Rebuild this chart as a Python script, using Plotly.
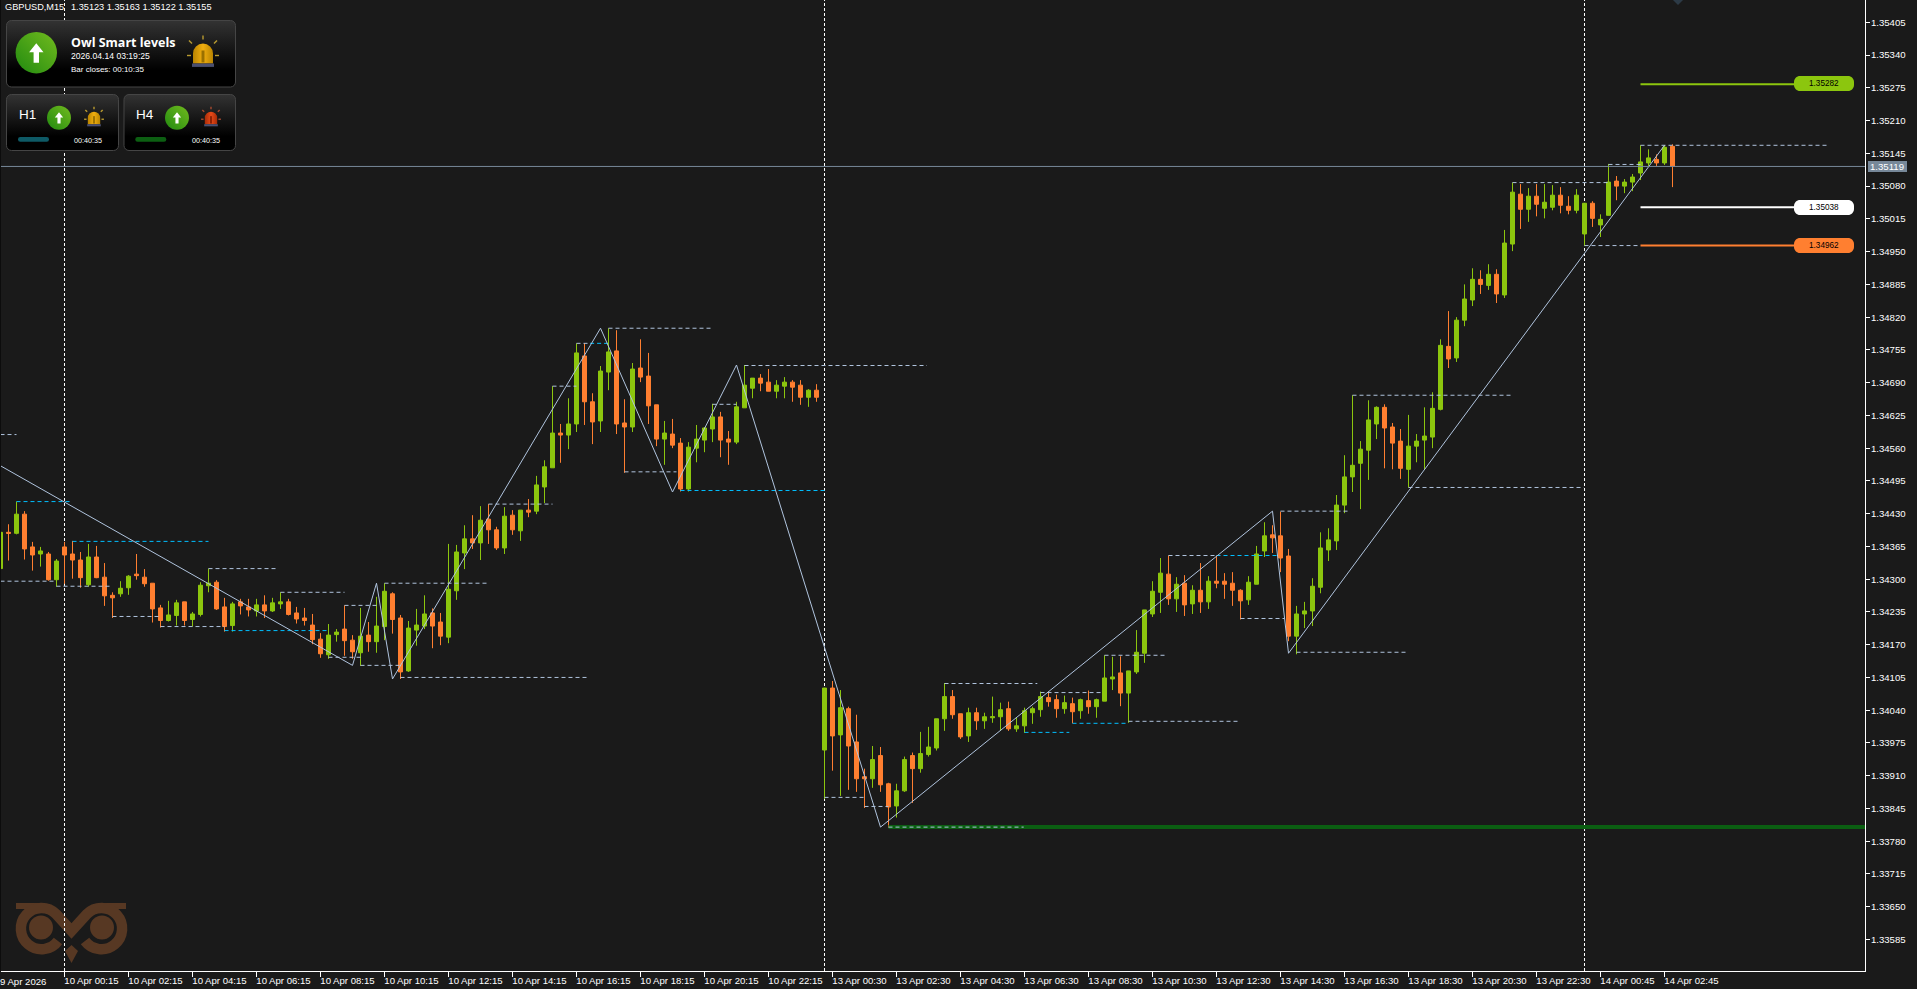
import base64
import plotly.graph_objects as go

POINT = 1e-5

bar_index = list(range(210))

opens = [
134321,134393,134391,134429,134364,134350,134350,134299,134364,134350,
134338,134289,134344,134304,134268,134271,134283,134310,134304,134292,
134243,134218,134228,134255,134220,134230,134287,134294,134245,134208,
134255,134245,134237,134249,134237,134251,134255,134233,134223,134209,
134181,134150,134190,134201,134179,134154,134189,134176,134206,134271,
134223,134118,134199,134207,134233,134215,134185,134277,134352,134380,
134372,134419,134398,134362,134427,134396,134437,134435,134483,134521,
134590,134586,134608,134743,134652,134614,134711,134753,134610,134602,
134719,134703,134646,134578,134588,134570,134479,134560,134576,134598,
134622,134578,134572,134640,134679,134699,134691,134673,134683,134691,
134685,134661,134675,133961,134084,133991,134043,133977,133908,133904,
133950,133894,133850,133880,133950,133924,133952,133965,134023,134067,
134033,133989,134035,134019,134025,134027,134043,134003,134009,134035,
134041,134065,134061,134043,134053,134039,134059,134047,134058,134102,
134114,134074,134116,134153,134231,134274,134310,134261,134292,134251,
134278,134255,134296,134296,134292,134278,134259,134290,134356,134388,
134386,134346,134187,134231,134237,134284,134358,134376,134447,134503,
134530,134556,134608,134641,134602,134574,134518,134564,134576,134582,
134637,134762,134739,134814,134854,134895,134883,134905,134864,134965,
135064,135034,135060,135036,135038,135062,135040,135032,134985,135046,
135003,135022,135090,135080,135088,135106,135126,135133,135126,135159,
]
highs = [
134393,134409,134454,134435,134374,134364,134354,134340,134374,134376,
134354,134370,134366,134332,134274,134296,134308,134350,134320,134292,
134249,134257,134259,134255,134235,134294,134321,134298,134263,134255,
134261,134261,134261,134268,134263,134274,134261,134245,134243,134231,
134193,134211,134201,134248,134189,134243,134215,134265,134292,134274,
134229,134217,134241,134268,134242,134233,134370,134368,134407,134427,
134445,134449,134404,134443,134437,134437,134459,134505,134536,134683,
134608,134659,134768,134768,134669,134723,134798,134794,134657,134729,
134776,134749,134646,134614,134618,134580,134572,134606,134602,134648,
134632,134594,134652,134725,134699,134707,134717,134695,134701,134695,
134695,134677,134687,134084,134098,134080,134047,134031,133924,133969,
133967,133896,133894,133948,133956,133997,134007,134023,134094,134080,
134033,134045,134045,134035,134067,134055,134057,134025,134045,134047,
134077,134077,134071,134069,134065,134063,134079,134063,134149,134146,
134147,134118,134199,134239,134296,134342,134347,134304,134308,134288,
134332,134306,134347,134312,134314,134280,134306,134366,134413,134407,
134434,134360,134247,134255,134302,134393,134401,134467,134546,134665,
134574,134655,134643,134647,134610,134598,134626,134588,134641,134671,
134776,134832,134820,134885,134917,134913,134925,134915,134993,135087,
135084,135076,135084,135084,135082,135078,135060,135074,135046,135050,
135024,135124,135100,135094,135104,135161,135153,135143,135161,135163,
]
lows = [
134318,134337,134389,134339,134317,134325,134297,134285,134291,134301,
134283,134285,134302,134247,134223,134265,134269,134299,134285,134214,
134204,134216,134208,134208,134206,134226,134274,134239,134196,134196,
134230,134226,134226,134223,134235,134241,134228,134212,134208,134171,
134144,134142,134176,134148,134142,134128,134156,134154,134179,134192,
134102,134116,134168,134201,134163,134169,134173,134259,134320,134360,
134338,134370,134358,134350,134388,134376,134423,134429,134451,134521,
134531,134558,134592,134606,134568,134592,134675,134588,134511,134592,
134691,134608,134564,134527,134560,134474,134474,134532,134552,134572,
134542,134527,134568,134640,134659,134673,134673,134659,134659,134652,
134646,134642,134652,133864,133920,133870,133882,133878,133846,133886,
133878,133807,133827,133878,133856,133916,133948,133960,133999,134023,
133983,133977,134001,134003,134015,133999,133999,133997,133995,134013,
134027,134047,134025,134033,134014,134023,134033,134025,134058,134080,
134048,134015,134112,134134,134225,134233,134249,134235,134227,134231,
134233,134241,134282,134261,134247,134220,134249,134290,134344,134352,
134314,134177,134151,134203,134207,134272,134336,134358,134431,134473,
134439,134497,134578,134520,134518,134499,134482,134532,134518,134560,
134635,134719,134731,134802,134842,134866,134874,134848,134858,134951,
134995,135009,135020,135016,135032,135026,135024,135026,134961,134999,
134979,135022,135052,135066,135070,135092,135120,135120,135122,135078,
]
closes = [
134393,134391,134429,134360,134348,134356,134299,134336,134348,134338,
134303,134344,134303,134267,134263,134282,134306,134307,134291,134241,
134218,134229,134253,134218,134231,134288,134292,134241,134206,134251,
134247,134239,134249,134237,134253,134255,134230,134221,134218,134180,
134152,134189,134195,134178,134156,134187,134176,134207,134276,134220,
134116,134203,134209,134231,134207,134187,134280,134354,134380,134372,
134417,134398,134362,134425,134398,134437,134433,134487,134523,134590,
134586,134608,134749,134652,134612,134713,134751,134608,134602,134717,
134701,134644,134578,134590,134566,134479,134562,134578,134600,134622,
134576,134572,134642,134685,134699,134689,134673,134685,134691,134681,
134661,134675,134661,134084,133989,134045,133969,133904,133904,133942,
133892,133848,133880,133942,133924,133954,133967,134023,134067,134031,
133987,134035,134019,134027,134027,134041,134003,134009,134039,134043,
134067,134057,134043,134055,134037,134061,134047,134061,134104,134106,
134074,134118,134155,134239,134276,134312,134261,134290,134249,134278,
134255,134296,134292,134290,134278,134257,134294,134350,134386,134382,
134342,134187,134231,134237,134286,134362,134378,134447,134503,134526,
134558,134616,134641,134600,134570,134520,134564,134574,134584,134639,
134764,134737,134814,134856,134895,134885,134905,134866,134967,135068,
135034,135060,135044,135048,135062,135042,135032,135062,135046,135016,
135014,135088,135080,135088,135098,135128,135136,135126,135157,135119,
]

zigzag_bars = [0, 44, 47, 49, 75, 84, 92, 110, 159, 161, 208]
zigzag_prices = [134525, 134129, 134292, 134102, 134798, 134473, 134725, 133808, 134435, 134153, 135161]

grey_levels = [
    (0, 2, 134587), (0, 7, 134296), (7, 14, 134286), (26, 34.75, 134321), (14, 20, 134226),
    (20, 28, 134206), (35, 43, 134274), (41, 45, 134145), (43, 47, 134248), (45, 50, 134129),
    (48, 61, 134292), (50, 73.5, 134105), (61, 69, 134449), (69, 72, 134683), (72, 73.7, 134768),
    (76, 89, 134798), (78, 84.5, 134513), (89, 92, 134647), (93, 115.8, 134724), (103, 108, 133867),
    (108, 111, 133849), (111, 127.9, 133808), (118, 129.6, 134093), (130, 137.5, 134075),
    (141, 154.9, 134018), (138, 145.8, 134149), (146, 152, 134347), (155, 160.5, 134222),
    (160, 168.5, 134435), (162, 175.9, 134155), (169, 189, 134665), (176, 197.9, 134482),
    (189, 201, 135087), (201, 205, 135123), (205, 228.5, 135161), (198, 205, 134962),
]
blue_levels = [
    (2, 9, 134454), (9, 26, 134375), (28, 41, 134198), (73.7, 76, 134768), (85, 103, 134476),
    (128, 133.6, 133996), (134, 141, 134014), (152, 159.6, 134347),
]
separator_bars = [8, 103, 198]

target_prices = [135282, 135038, 134962]
target_labels = ["1.35282", "1.35038", "1.34962"]
support_price = 133808
bid_price = 135119

x_tick_bars = [8 + 8 * k for k in range(26)]
x_tick_labels = [
    "10 Apr 00:15", "10 Apr 02:15", "10 Apr 04:15", "10 Apr 06:15", "10 Apr 08:15", "10 Apr 10:15",
    "10 Apr 12:15", "10 Apr 14:15", "10 Apr 16:15", "10 Apr 18:15", "10 Apr 20:15", "10 Apr 22:15",
    "13 Apr 00:30", "13 Apr 02:30", "13 Apr 04:30", "13 Apr 06:30", "13 Apr 08:30", "13 Apr 10:30",
    "13 Apr 12:30", "13 Apr 14:30", "13 Apr 16:30", "13 Apr 18:30", "13 Apr 20:30", "13 Apr 22:30",
    "14 Apr 00:45", "14 Apr 02:45",
]
y_tick_labels = [
    "1.35405", "1.35340", "1.35275", "1.35210", "1.35145", "1.35080", "1.35015", "1.34950",
    "1.34885", "1.34820", "1.34755", "1.34690", "1.34625", "1.34560", "1.34495", "1.34430",
    "1.34365", "1.34300", "1.34235", "1.34170", "1.34105", "1.34040", "1.33975", "1.33910",
    "1.33845", "1.33780", "1.33715", "1.33650", "1.33585",
]

BG = "#1a1a1a"
GREEN = "#8cc60e"
ORANGE = "#ff7f30"
STEEL = "#b0c4de"
BLUE = "#00bfff"
SLATE = "#778899"
FONT = "Liberation Sans"

W, H = 1917, 989
L, R, T, B = 1, 1865, 0, 971
PW, PH = R - L, B - T


def fx(px):
    return (px - L) / PW


def fy(py):
    return 1 - (py - T) / PH


def pr(values):
    return [None if v is None else round(v * POINT, 5) for v in values]


def level_xy(levels):
    xs, ys = [], []
    for a, b, p in levels:
        xs += [a, b, None]
        ys += [p, p, None]
    return xs, pr(ys)


fig = go.Figure()

# thick support line beneath the candles
fig.add_trace(go.Scatter(x=[111, 233.1], y=pr([support_price, support_price]), mode="lines",
                         line=dict(color="#0b5e12", width=4), hoverinfo="skip", showlegend=False))
fig.add_trace(go.Candlestick(
    x=bar_index, open=pr(opens), high=pr(highs), low=pr(lows), close=pr(closes),
    increasing=dict(line=dict(color=GREEN, width=1), fillcolor=GREEN),
    decreasing=dict(line=dict(color=ORANGE, width=1), fillcolor=ORANGE),
    whiskerwidth=0, hoverinfo="skip", showlegend=False))

gx, gy = level_xy(grey_levels)
fig.add_trace(go.Scatter(x=gx, y=gy, mode="lines", connectgaps=False,
                         line=dict(color=STEEL, width=1, dash="4px,3px"), hoverinfo="skip", showlegend=False))
bx, by = level_xy(blue_levels)
fig.add_trace(go.Scatter(x=bx, y=by, mode="lines", connectgaps=False,
                         line=dict(color=BLUE, width=1, dash="4px,3px"), hoverinfo="skip", showlegend=False))
fig.add_trace(go.Scatter(x=zigzag_bars, y=pr(zigzag_prices), mode="lines",
                         line=dict(color=STEEL, width=1), hoverinfo="skip", showlegend=False))
fig.add_trace(go.Scatter(x=[0, 233.1], y=pr([bid_price, bid_price]), mode="lines",
                         line=dict(color=SLATE, width=1), hoverinfo="skip", showlegend=False))
for price, color in zip(target_prices, [GREEN, "#ffffff", ORANGE]):
    fig.add_trace(go.Scatter(x=[205, 225], y=pr([price, price]), mode="lines",
                             line=dict(color=color, width=2), hoverinfo="skip", showlegend=False))


def rounded(x0, y0, x1, y1, r):
    k = r * 0.45
    pts = [
        f"M{fx(x0 + r)},{fy(y0)}", f"L{fx(x1 - r)},{fy(y0)}",
        f"C{fx(x1 - k)},{fy(y0)} {fx(x1)},{fy(y0 + k)} {fx(x1)},{fy(y0 + r)}",
        f"L{fx(x1)},{fy(y1 - r)}",
        f"C{fx(x1)},{fy(y1 - k)} {fx(x1 - k)},{fy(y1)} {fx(x1 - r)},{fy(y1)}",
        f"L{fx(x0 + r)},{fy(y1)}",
        f"C{fx(x0 + k)},{fy(y1)} {fx(x0)},{fy(y1 - k)} {fx(x0)},{fy(y1 - r)}",
        f"L{fx(x0)},{fy(y0 + r)}",
        f"C{fx(x0)},{fy(y0 + k)} {fx(x0 + k)},{fy(y0)} {fx(x0 + r)},{fy(y0)}", "Z",
    ]
    return " ".join(pts)


shapes = []
for b in separator_bars:
    shapes.append(dict(type="line", xref="x", yref="paper", x0=b, x1=b, y0=0, y1=1, layer="below",
                       line=dict(color="#ffffff", width=1, dash="3px,2px")))
# dark strip on the window's left edge
shapes.append(dict(type="rect", xref="paper", yref="paper", layer="above", line=dict(width=0),
                   fillcolor="#0c0c0c", x0=fx(0), x1=fx(1), y0=fy(971), y1=fy(0)))
# marker at the top edge
shapes.append(dict(type="path", xref="paper", yref="paper", layer="above", line=dict(width=0),
                   fillcolor="#2c3a46",
                   path=f"M{fx(1673)},{fy(0)} L{fx(1683)},{fy(0)} L{fx(1678)},{fy(5)} Z"))
# price tag on the axis
shapes.append(dict(type="rect", xref="paper", yref="paper", layer="above", line=dict(width=0),
                   fillcolor=SLATE, x0=fx(1868), x1=fx(1907), y0=fy(161), y1=fy(172)))
# pills
for (ya, yb), color in zip([(76, 91), (200, 215), (238, 253)], [GREEN, "#ffffff", ORANGE]):
    shapes.append(dict(type="path", xref="paper", yref="paper", layer="above", line=dict(width=0),
                       fillcolor=color, path=rounded(1794, ya, 1854, yb, 6)))

annotations = []


def add_text(px, py, text, size, color="#ffffff", anchor="left", bold=False, family=FONT):
    annotations.append(dict(
        xref="paper", yref="paper", x=fx(px), y=fy(py), text=f"<b>{text}</b>" if bold else text,
        showarrow=False, xanchor=anchor, yanchor="middle", align=anchor, borderpad=0, borderwidth=0,
        font=dict(family=family, size=size, color=color)))


add_text(5, 7, "GBPUSD,M15", 9.2)
add_text(71, 7, "1.35123 1.35163 1.35122 1.35155", 9.2)
add_text(71, 42, "Owl Smart levels", 12.5, bold=True, family="Open Sans")
add_text(71, 56, "2026.04.14 03:19:25", 8.6)
add_text(71, 69, "Bar closes: 00:10:35", 8)
add_text(19, 115, "H1", 13.5)
add_text(136, 115, "H4", 13.5)
add_text(74, 140, "00:40:35", 7.2)
add_text(192, 140, "00:40:35", 7.2)
add_text(1824, 83, target_labels[0], 8.2, "#000000", "center")
add_text(1824, 207.5, target_labels[1], 8.2, "#000000", "center")
add_text(1824, 245.5, target_labels[2], 8.2, "#000000", "center")
add_text(1887.5, 166.5, "1.35119", 9.6, "#ffffff", "center")
add_text(0, 981, "9 Apr 2026", 9.6)


def arrow(cx, cy, s):
    return (f'<path fill="#fff" d="M{cx},{cy - 9.5 * s} L{cx + 7.2 * s},{cy - 0.5 * s} L{cx + 2.7 * s},{cy - 0.5 * s} '
            f'L{cx + 2.7 * s},{cy + 10 * s} L{cx - 2.7 * s},{cy + 10 * s} L{cx - 2.7 * s},{cy - 0.5 * s} '
            f'L{cx - 7.2 * s},{cy - 0.5 * s} Z"/>')


def circle(cx, cy, r):
    return f'<circle cx="{cx}" cy="{cy}" r="{r}" fill="url(#gc)"/>' + arrow(cx, cy, r / 20.7)


def siren(cx, cy, s, c1, c2, ray):
    out = f'<path fill="url(#{c1})" d="M{cx - 10 * s},{cy + 10 * s} L{cx - 10 * s},{cy} A{10 * s},{10 * s} 0 0 1 {cx + 10 * s},{cy} L{cx + 10 * s},{cy + 10 * s} Z"/>'
    out += f'<rect x="{cx - 11 * s}" y="{cy + 10 * s}" width="{22 * s}" height="{3.4 * s}" fill="#4a4f70"/>'
    out += f'<rect x="{cx - 1.5 * s}" y="{cy - 3 * s}" width="{3 * s}" height="{12 * s}" fill="{c2}"/>'
    for x1, y1, x2, y2 in [(0, -14, 0, -18), (-11, -10, -14, -13), (11, -10, 14, -13), (-12, 2, -16, 2), (12, 2, 16, 2)]:
        out += f'<line x1="{cx + x1 * s}" y1="{cy + y1 * s}" x2="{cx + x2 * s}" y2="{cy + y2 * s}" stroke="{ray}" stroke-width="{1.4}"/>'
    return out


def panel(x0, y0, x1, y1):
    return (f'<rect x="{x0}" y="{y0}" width="{x1 - x0}" height="{y1 - y0}" rx="5" ry="5" fill="url(#gp)" '
            f'stroke="#454545" stroke-width="1"/>')


panel_svg = (
    '<svg xmlns="http://www.w3.org/2000/svg" width="240" height="155" viewBox="0 0 240 155">'
    '<defs>'
    '<linearGradient id="gp" x1="0" y1="0" x2="0" y2="1"><stop offset="0" stop-color="#333"/>'
    '<stop offset="0.75" stop-color="#000"/><stop offset="1" stop-color="#000"/></linearGradient>'
    '<linearGradient id="gc" x1="0" y1="1" x2="1" y2="0"><stop offset="0" stop-color="#218a10"/>'
    '<stop offset="1" stop-color="#72bb1e"/></linearGradient>'
    '<linearGradient id="ga" x1="0" y1="0" x2="1" y2="0"><stop offset="0" stop-color="#b98400"/>'
    '<stop offset="0.5" stop-color="#f0ae10"/><stop offset="1" stop-color="#b98400"/></linearGradient>'
    '<linearGradient id="gr" x1="0" y1="0" x2="1" y2="0"><stop offset="0" stop-color="#a82c08"/>'
    '<stop offset="0.5" stop-color="#e84a18"/><stop offset="1" stop-color="#a82c08"/></linearGradient>'
    '</defs>'
    + panel(6.5, 20.5, 235.5, 87) + panel(6.5, 94.5, 118.5, 150.5) + panel(124, 94.5, 235.5, 150.5)
    + circle(36.3, 52.7, 20.7) + circle(59, 117.7, 12) + circle(177, 117.7, 12)
    + siren(203, 53.5, 1.0, "ga", "#9a7000", "#b89a30")
    + siren(94, 118, 0.62, "ga", "#9a7000", "#b89a30")
    + siren(211, 118, 0.62, "gr", "#8a2004", "#a84a30")
    + '<rect x="18" y="137" width="31" height="4.7" rx="2.3" fill="#0e5a66"/>'
    + '<rect x="135.3" y="137" width="31" height="4.7" rx="2.3" fill="#0c5f12"/>'
    + '</svg>'
)

logo_svg = (
    '<svg xmlns="http://www.w3.org/2000/svg" width="120" height="70" viewBox="10 898 120 70">'
    '<g fill="#573823" stroke="none">'
    '<circle cx="41" cy="927.5" r="12"/><circle cx="102" cy="927.5" r="12"/>'
    '<rect x="16" y="903" width="24" height="6"/><rect x="102" y="903" width="24" height="6"/>'
    '<path d="M71.5,945 L78,951 L71.5,963 L65,951 Z"/></g>'
    '<path fill="none" stroke="#573823" stroke-width="10.5" '
    'd="M58,941 A20.6,20.6 0 1 1 56,914 L71.5,931 L87,914 A20.6,20.6 0 1 1 85,941"/>'
    '</svg>'
)


def data_uri(svg):
    return "data:image/svg+xml;base64," + base64.b64encode(svg.encode()).decode()


images = [
    dict(source=data_uri(panel_svg), xref="paper", yref="paper", x=fx(0), y=fy(0), sizex=240 / PW, sizey=155 / PH,
         xanchor="left", yanchor="top", sizing="stretch", layer="above"),
    dict(source=data_uri(logo_svg), xref="paper", yref="paper", x=fx(10), y=fy(898), sizex=120 / PW, sizey=70 / PH,
         xanchor="left", yanchor="top", sizing="stretch", layer="below"),
]

y_tick_vals = [float(t) for t in y_tick_labels]

fig.update_layout(
    width=W, height=H, autosize=False,
    margin=dict(l=L, r=W - R, t=T, b=H - B, pad=0, autoexpand=False),
    paper_bgcolor=BG, plot_bgcolor=BG,
    showlegend=False, hovermode=False, dragmode=False,
    boxgap=0.5, boxgroupgap=0,
    shapes=shapes, annotations=annotations, images=images,
    xaxis=dict(
        range=[0.0625, 233.0625], rangeslider=dict(visible=False), type="linear",
        tickmode="array", tickvals=x_tick_bars, ticktext=x_tick_labels,
        ticks="outside", ticklen=5, tickwidth=1, tickcolor="#ffffff",
        showgrid=False, zeroline=False, showline=True, linecolor="#ffffff", linewidth=1,
        tickfont=dict(family=FONT, size=9.6, color="#ffffff"), tickangle=0,
        ticklabelshift=27, ticklabelstandoff=-5, fixedrange=True,
    ),
    yaxis=dict(
        side="right", range=[1.335225, 1.354493],
        tickmode="array", tickvals=y_tick_vals, ticktext=y_tick_labels,
        ticks="outside", ticklen=4, tickwidth=1, tickcolor="#ffffff",
        showgrid=False, zeroline=False, showline=True, linecolor="#ffffff", linewidth=1,
        tickfont=dict(family=FONT, size=9.6, color="#ffffff"), ticklabelstandoff=-1, fixedrange=True,
    ),
)

fig.write_html(
    "out.html",
    config=dict(displayModeBar=False, staticPlot=True),
    post_script="document.body.style.margin='0';document.body.style.overflow='hidden';document.body.style.background='#1a1a1a';",
)
